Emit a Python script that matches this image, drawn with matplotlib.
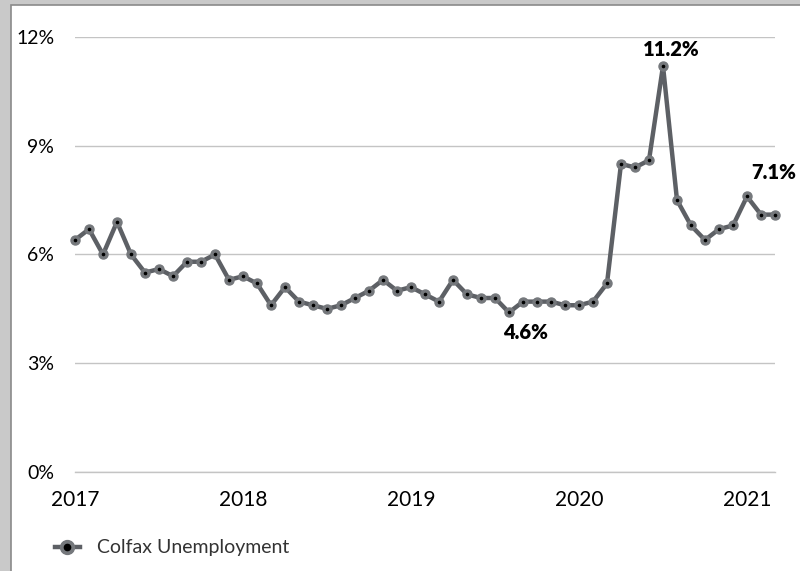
import numpy as np
import matplotlib.pyplot as plt
from matplotlib.patches import Rectangle
from matplotlib.lines import Line2D
from matplotlib.legend_handler import HandlerTuple

plt.rcParams['font.family'] = ['Lato', 'DejaVu Sans']

# monthly unemployment rate, Jan 2017 .. Mar 2021
rate = [6.4, 6.7, 6.0, 6.9, 6.0, 5.5, 5.6, 5.4, 5.8, 5.8, 6.0, 5.3,
        5.4, 5.2, 4.6, 5.1, 4.7, 4.6, 4.5, 4.6, 4.8, 5.0, 5.3, 5.0,
        5.1, 4.9, 4.7, 5.3, 4.9, 4.8, 4.8, 4.4, 4.7, 4.7, 4.7, 4.6,
        4.6, 4.7, 5.2, 8.5, 8.4, 8.6, 11.2, 7.5, 6.8, 6.4, 6.7, 6.8,
        7.6, 7.1, 7.1]
years = [2017, 2018, 2019, 2020, 2021]
yticks = [0, 3, 6, 9, 12]
series_name = 'Colfax Unemployment'
# (month index, label, text offset in points)
callouts = [(42, '11.2%', (6, 12)), (50, '7.1%', (-1, 30)), (33, '4.6%', (-8.5, -22))]

months = np.arange(len(rate))
line_col = '#5d6065'
mark_col = '#75787c'

fig = plt.figure(figsize=[8, 5.71], dpi=100)
fig.patch.set_facecolor('#c9c9c9')
fig.patches.append(Rectangle((11 / 800, -0.01), 1, 1.01 - 5 / 571, transform=fig.transFigure,
                             facecolor='white', edgecolor='#8a8a8a', linewidth=1.2,
                             zorder=-5))

ax = fig.add_axes([75 / 800, 1 - 472 / 571, 700 / 800, 435 / 571])
ax.set_facecolor('none')

ax.plot(months, rate, color=line_col, linewidth=3.2, marker='o', markersize=6.5,
        markerfacecolor=mark_col, markeredgecolor=mark_col, clip_on=False, zorder=3)
ax.plot(months, rate, linestyle='none', marker='o', markersize=1.6, color='black',
        clip_on=False, zorder=4)

for idx, txt, off in callouts:
    ax.annotate(txt, (months[idx], rate[idx]), xytext=off, textcoords='offset points',
                ha='center', va='center', fontsize=14.5, fontweight='heavy', color='black')

ax.set_xlim(0, len(rate) - 1)
ax.set_ylim(0, 12)
ax.set_yticks(yticks)
ax.set_yticklabels([f'{v}%' for v in yticks])
ax.set_xticks([(y - 2017) * 12 for y in years])
ax.set_xticklabels([str(y) for y in years])
ax.tick_params(axis='y', length=0, pad=15, labelsize=14)
ax.tick_params(axis='x', length=0, pad=13, labelsize=15)
ax.grid(axis='y', color='#c4c4c4', linewidth=1)
ax.axhline(0, color='#c4c4c4', linewidth=1, clip_on=False, zorder=0.5)
ax.set_axisbelow(True)
for s in ax.spines.values():
    s.set_visible(False)

h1 = Line2D([], [], color=line_col, linewidth=3.2, marker='o', markersize=10,
            markerfacecolor=mark_col, markeredgecolor=mark_col)
h2 = Line2D([], [], linestyle='none', marker='o', markersize=4.5, color='black')
fig.legend([(h1, h2)], [series_name], handler_map={tuple: HandlerTuple(ndivide=1)},
           loc='center left', bbox_to_anchor=(37 / 800, 1 - 548 / 571), frameon=False,
           handlelength=1.3, handletextpad=0.9, prop={'size': 14},
           labelcolor='#333333')

fig.savefig('out.png', dpi=100)
